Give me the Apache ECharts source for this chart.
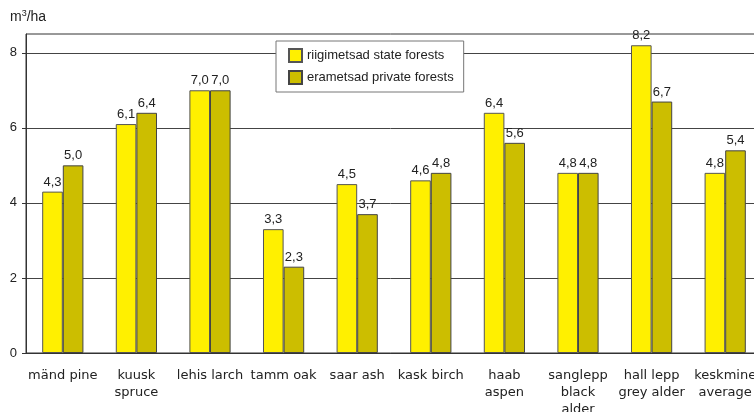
<!DOCTYPE html>
<html>
<head>
<meta charset="utf-8">
<script src="https://cdn.jsdelivr.net/npm/echarts@6/dist/echarts.min.js"></script>
<style>
    html, body { margin: 0; padding: 0; background: #fff; }
    #chart { width: 754px; height: 412px; }
</style>
</head>
<body>
<div id="chart"></div>
<script>
// puuliikide andmed
const categories = [
    'mänd pine', 'kuusk\nspruce', 'lehis larch', 'tamm oak', 'saar ash',
    'kask birch', 'haab\naspen', 'sanglepp\nblack\nalder', 'hall lepp\ngrey alder', 'keskmine\naverage'
];
const stateForests = [4.3, 6.1, 7.0, 3.3, 4.5, 4.6, 6.4, 4.8, 8.2, 4.8];
const privateForests = [5.0, 6.4, 7.0, 2.3, 3.7, 4.8, 5.6, 4.8, 6.7, 5.4];
const yTicks = [0, 2, 4, 6, 8];

const chart = echarts.init(document.getElementById('chart'));

const arial = "'Liberation Sans', Arial, sans-serif";

const valueLabel = {
    show: true,
    position: 'top',
    distance: 3,
    color: '#222',
    fontFamily: arial,
    fontSize: 13,
    formatter: p => p.value.toFixed(1).replace('.', ',')
};

const option = {
    animation: false,
    grid: {
        left: 26,
        top: 34,
        width: 736,
        bottom: 59,
        outerBoundsMode: 'none',
        show: true,
        borderColor: '#333',
        borderWidth: 1
    },
    graphic: [{
        type: 'text',
        left: 10,
        top: 9,
        style: {
            text: 'm{s|3}/ha',
            fontFamily: arial,
            fontSize: 14,
            fill: '#222',
            rich: {
                s: { fontSize: 9, verticalAlign: 'top', padding: [0, 0, 7, 0] }
            }
        }
    }],
    legend: {
        orient: 'vertical',
        left: 276,
        top: 41,
        padding: [7, 10, 7, 12],
        itemWidth: 13,
        itemHeight: 13,
        itemGap: 7,
        icon: 'rect',
        backgroundColor: '#fff',
        borderColor: '#777',
        borderWidth: 1,
        textStyle: {
            color: '#222',
            fontFamily: arial,
            fontSize: 13
        },
        data: ['riigimetsad state forests', 'erametsad private forests']
    },
    xAxis: {
        type: 'category',
        data: categories,
        axisLine: { lineStyle: { color: '#333' } },
        axisTick: { length: 4, lineStyle: { color: '#333' } },
        axisLabel: {
            interval: 0,
            margin: 14,
            color: '#222',
            fontFamily: "'DejaVu Sans', Verdana, sans-serif",
            fontSize: 13,
            lineHeight: 17
        }
    },
    yAxis: {
        type: 'value',
        min: 0,
        max: 8.5,
        interval: 2,
        axisLine: { show: true, lineStyle: { color: '#333' } },
        axisTick: { show: true, length: 4, customValues: yTicks, lineStyle: { color: '#333' } },
        axisLabel: {
            margin: 9,
            customValues: yTicks,
            color: '#222',
            fontFamily: arial,
            fontSize: 13
        },
        splitLine: { lineStyle: { color: '#444', width: 1 } }
    },
    series: [
        {
            name: 'riigimetsad state forests',
            type: 'bar',
            data: stateForests,
            barGap: '0%',
            barCategoryGap: '44%',
            itemStyle: { color: '#FFF000', borderColor: '#555', borderWidth: 1 },
            label: valueLabel
        },
        {
            name: 'erametsad private forests',
            type: 'bar',
            data: privateForests,
            itemStyle: { color: '#CCBE00', borderColor: '#444', borderWidth: 1 },
            label: valueLabel
        }
    ]
};

chart.setOption(option);
</script>
</body>
</html>
